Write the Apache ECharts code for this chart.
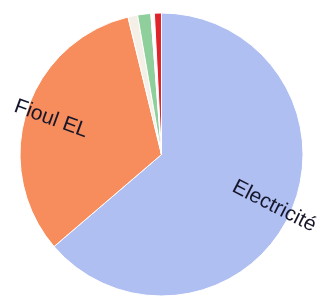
<!DOCTYPE html>
<html>
<head>
<meta charset="utf-8">
<script src="https://cdn.jsdelivr.net/npm/echarts@6/dist/echarts.min.js"></script>
<style>
  html, body { margin: 0; padding: 0; background: #fff; }
  #chart { width: 321px; height: 298px; }
</style>
</head>
<body>
<div id="chart"></div>
<script>
// parts (%), clockwise from the top
var categories = ['Electricité', 'Fioul EL', 'Bois', 'Gaz', 'Autre', 'Charbon'];
var values = [63.6, 32.4, 1.1, 1.5, 0.4, 0.8];

var colors = ['#b0bff2', '#f78d5c', '#f4f0e8', '#8fcf9c', '#ffffff', '#e0242c'];

var chart = echarts.init(document.getElementById('chart'));

var slices = categories.map(function (c, i) {
    return { name: c, value: values[i], itemStyle: { color: colors[i] } };
});

// transparent copy of the pie, only to place one label further out
function labelSeries(name, outer, rotate) {
    return {
        type: 'pie',
        center: [161.5, 154.5],
        radius: [0, outer],
        startAngle: 90,
        silent: true,
        itemStyle: { color: 'rgba(0,0,0,0)' },
        label: {
            position: 'inside',
            rotate: rotate,
            color: '#16162a',
            fontFamily: 'Liberation Sans, Arial, sans-serif',
            fontSize: 21
        },
        labelLine: { show: false },
        data: categories.map(function (c, i) {
            return { name: c, value: values[i], label: { show: c === name } };
        })
    };
}

chart.setOption({
    animation: false,
    series: [
        {
            type: 'pie',
            center: [161.5, 154.5],
            radius: [0, 141.5],
            startAngle: 90,
            silent: true,
            label: { show: false },
            labelLine: { show: false },
            itemStyle: { borderColor: '#fff', borderWidth: 1 },
            data: slices
        },
        labelSeries('Electricité', 242, -27),
        labelSeries('Fioul EL', 226, -20)
    ]
});
</script>
</body>
</html>
